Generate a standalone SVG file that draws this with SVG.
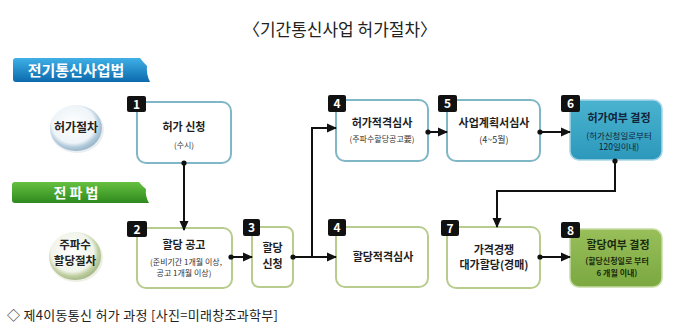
<svg xmlns="http://www.w3.org/2000/svg" width="680" height="327" viewBox="0 0 680 327">
<defs>
<style>
text{font-family:"Noto Sans CJK KR","Noto Sans",sans-serif;}
.t{font-size:11px;font-weight:bold;fill:#1e1e1e;text-anchor:middle;}
.s{font-size:8px;fill:#333;text-anchor:middle;}
.boxT{fill:#fff;stroke:#80b7c6;stroke-width:2;}
.boxG{fill:#fff;stroke:#b8cc8e;stroke-width:2;}
.badge{fill:#111;}
.num{font-size:12px;font-weight:bold;fill:#fff;text-anchor:middle;}
.c{fill:none;stroke:#111;stroke-width:2;}
</style>
<marker id="ah" markerWidth="10" markerHeight="10" refX="9" refY="5" orient="auto" markerUnits="userSpaceOnUse">
<path d="M0,0.5 L10,5 L0,9.5 Z" fill="#111"/>
</marker>
<marker id="dot" markerWidth="6" markerHeight="6" refX="3" refY="3" markerUnits="userSpaceOnUse">
<circle cx="3" cy="3" r="2.6" fill="#111"/>
</marker>
<linearGradient id="gBlue" x1="0" y1="0" x2="0" y2="1">
<stop offset="0" stop-color="#3fb0e6"/>
<stop offset="1" stop-color="#0b6aad"/>
</linearGradient>
<linearGradient id="gGreen" x1="0" y1="0" x2="0" y2="1">
<stop offset="0" stop-color="#66c040"/>
<stop offset="1" stop-color="#2e8a1e"/>
</linearGradient>
<radialGradient id="cBlue" cx="0.45" cy="0.42" r="0.6">
<stop offset="0" stop-color="#ffffff"/>
<stop offset="0.68" stop-color="#eef4f8"/>
<stop offset="0.83" stop-color="#b3cbdb"/>
<stop offset="1" stop-color="#94b2c6"/>
</radialGradient>
<radialGradient id="cGreen" cx="0.45" cy="0.42" r="0.6">
<stop offset="0" stop-color="#ffffff"/>
<stop offset="0.68" stop-color="#f1f4ea"/>
<stop offset="0.83" stop-color="#c0cfa0"/>
<stop offset="1" stop-color="#a2b584"/>
</radialGradient>
<linearGradient id="f6" x1="0" y1="0" x2="0" y2="1">
<stop offset="0" stop-color="#4bb3d0"/>
<stop offset="1" stop-color="#2c98bb"/>
</linearGradient>
<linearGradient id="f8" x1="0" y1="0" x2="0" y2="1">
<stop offset="0" stop-color="#98bf5a"/>
<stop offset="1" stop-color="#7ba840"/>
</linearGradient>
</defs>
<rect width="680" height="327" fill="#ffffff"/>

<text x="340" y="36" style="font-size:17px;fill:#222;text-anchor:middle;">〈기간통신사업 허가절차〉</text>

<g id="banner-telecom">
<path d="M13,61 Q13,58 16,58 L140,58 Q143,62 147,66 Q146,74 150,82 L16,82 Q13,82 13,79 Z" fill="url(#gBlue)"/>
<text x="76" y="76" style="font-size:15px;font-weight:bold;fill:#fff;text-anchor:middle;">전기통신사업법</text>
</g>
<g id="banner-radio">
<path d="M12,185 Q12,182 15,182 L139,182 Q142,186 146,189 Q145,196 149,203 L15,203 Q12,203 12,200 Z" fill="url(#gGreen)"/>
<text x="76" y="198" style="font-size:14px;font-weight:bold;fill:#fff;text-anchor:middle;">전 파 법</text>
</g>

<g id="circle-permit">
<ellipse cx="77" cy="130" rx="27" ry="23" fill="#d9e3ea" opacity="0.6"/>
<ellipse cx="76" cy="128" rx="26" ry="23" fill="url(#cBlue)"/>
<text x="76" y="132" style="font-size:12px;font-weight:bold;fill:#222;text-anchor:middle;">허가절차</text>
</g>
<g id="circle-alloc">
<ellipse cx="76" cy="258" rx="27" ry="24" fill="#dde4d2" opacity="0.6"/>
<ellipse cx="75" cy="256" rx="26" ry="24" fill="url(#cGreen)"/>
<text x="75" y="249" style="font-size:11.5px;font-weight:bold;fill:#222;text-anchor:middle;">주파수</text>
<text x="75" y="265" style="font-size:11.5px;font-weight:bold;fill:#222;text-anchor:middle;">할당절차</text>
</g>

<g id="node1">
<rect x="137" y="102" width="94" height="61" rx="9" class="boxT"/>
<rect x="127" y="96" width="19" height="16" rx="2" class="badge"/>
<text x="136.5" y="109" class="num">1</text>
<text x="184" y="131" class="t">허가 신청</text>
<text x="184" y="148" class="s">(수시)</text>
</g>
<g id="node4a">
<rect x="336" y="100" width="92" height="61" rx="9" class="boxT"/>
<rect x="328" y="95" width="18" height="17" rx="2" class="badge"/>
<text x="337" y="108" class="num">4</text>
<text x="382" y="127" class="t">허가적격심사</text>
<text x="382" y="142" class="s">(주파수할당공고要)</text>
</g>
<g id="node5">
<rect x="447" y="100" width="93" height="61" rx="9" class="boxT"/>
<rect x="438" y="95" width="19" height="17" rx="2" class="badge"/>
<text x="447.5" y="108" class="num">5</text>
<text x="494" y="127" class="t">사업계획서심사</text>
<text x="494" y="143" class="s" style="font-size:9px">(4~5월)</text>
</g>
<g id="node6">
<rect x="570" y="100" width="92" height="60" rx="9" fill="url(#f6)" stroke="#a8d6e6" stroke-width="1.5"/>
<rect x="561" y="95" width="19" height="17" rx="2" class="badge"/>
<text x="570.5" y="108" class="num">6</text>
<text x="619" y="122" class="t" style="fill:#10243a">허가여부 결정</text>
<text x="619" y="139" class="s" style="fill:#10243a;font-size:8.5px">(허가신청일로부터</text>
<text x="619" y="150" class="s" style="fill:#10243a;font-size:8.5px">120일이내)</text>
</g>

<g id="node2">
<rect x="137" y="228" width="95" height="60" rx="9" class="boxG"/>
<rect x="127" y="221" width="20" height="16" rx="2" class="badge"/>
<text x="137" y="234" class="num">2</text>
<text x="184" y="249" class="t">할당 공고</text>
<text x="186" y="265" class="s">(준비기간 1개월 이상,</text>
<text x="184" y="276" class="s">공고 1개월 이상)</text>
</g>
<g id="node3">
<rect x="252" y="227" width="41" height="60" rx="7" class="boxG"/>
<rect x="243" y="219" width="17" height="17" rx="2" class="badge"/>
<text x="251.5" y="232" class="num">3</text>
<text x="272.5" y="252" class="t">할당</text>
<text x="272.5" y="268" class="t">신청</text>
</g>
<g id="node4b">
<rect x="336" y="227" width="92" height="60" rx="9" class="boxG"/>
<rect x="328" y="219" width="18" height="17" rx="2" class="badge"/>
<text x="337" y="232" class="num">4</text>
<text x="383" y="261" class="t">할당적격심사</text>
</g>
<g id="node7">
<rect x="447" y="227" width="93" height="61" rx="9" class="boxG"/>
<rect x="441" y="220" width="18" height="16" rx="2" class="badge"/>
<text x="450" y="233" class="num">7</text>
<text x="494" y="254" class="t">가격경쟁</text>
<text x="494" y="269" class="t">대가할당(경매)</text>
</g>
<g id="node8">
<rect x="570" y="229" width="92" height="58" rx="9" fill="url(#f8)" stroke="#c6dca4" stroke-width="1.5"/>
<rect x="561" y="222" width="19" height="16" rx="2" class="badge"/>
<text x="570.5" y="235" class="num">8</text>
<text x="618" y="249" class="t" style="fill:#1b2a0c">할당여부 결정</text>
<text x="617" y="264" class="s" style="fill:#1b2a0c;font-weight:bold;font-size:8px">(할당신청일로 부터</text>
<text x="617" y="276" class="s" style="fill:#1b2a0c;font-weight:bold;font-size:8px">6 개월 이내)</text>
</g>

<g id="connectors">
<path class="c" d="M184,163 V230" marker-start="url(#dot)" marker-end="url(#ah)"/>
<path class="c" d="M231,257 H252" marker-start="url(#dot)" marker-end="url(#ah)"/>
<path class="c" d="M293,257 H336" marker-start="url(#dot)" marker-end="url(#ah)"/>
<path class="c" d="M312,257 V128 H336" marker-end="url(#ah)"/>
<path class="c" d="M428,132 H447" marker-start="url(#dot)" marker-end="url(#ah)"/>
<path class="c" d="M540,132 H570" marker-start="url(#dot)" marker-end="url(#ah)"/>
<path class="c" d="M615,161 V191 H497 V227" marker-start="url(#dot)" marker-end="url(#ah)"/>
<path class="c" d="M540,257 H570" marker-start="url(#dot)" marker-end="url(#ah)"/>
</g>

<text x="7" y="320" style="font-size:13px;letter-spacing:0.3px;fill:#222;">◇ 제4이동통신 허가 과정 [사진=미래창조과학부]</text>
</svg>
